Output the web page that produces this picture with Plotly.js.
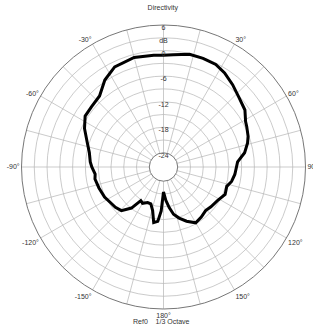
<!DOCTYPE html>
<html><head><meta charset="utf-8">
<script src="https://cdn.plot.ly/plotly-3.0.1.min.js"></script>
<style>html,body{margin:0;padding:0;background:#fff}#c{width:313px;height:334px}</style>
</head><body><div id="c"></div>
<script>
const angles = [-180,-177,-174,-170,-166,-161,-156,-150,-146,-142,-136,-130,-125,-117,-108,-100,-96,-90,-86,-79,-72,-64,-57,-50,-42,-34,-26,-15,-5,0,5,13,20,27,33,40,47,55,61,64,70,74,80,86,96,102,107,114,122,130,136,143,150,157,163,168,172,176,180];
const levels = [-21.5,-17,-14.5,-14.1,-16.8,-18.2,-18.2,-17.5,-17.8,-15.1,-13.1,-12.6,-12.4,-11.8,-11.4,-11.0,-11.2,-10.5,-10.1,-9.6,-8.5,-6.7,-5.4,-5.3,-4.9,-2.7,-1.2,-0.7,-1.0,-1.1,-0.9,-0.2,-0.2,-0.3,-1.0,-2.1,-3.2,-4.0,-5.3,-5.6,-6.2,-6.8,-8.0,-9.9,-10.5,-11.0,-11.8,-11.5,-12.4,-12.8,-13.1,-12.6,-12.2,-13.5,-14.8,-16.0,-17.7,-19.5,-21.5];
const radialTicks = [6,0,-6,-12,-18,-24];
const radialGrid = [-21,-18,-15,-12,-9,-6,-3,0,3,6];
const angleGrid = [0,15,30,45,60,75,90,105,120,135,150,165,180,195,210,225,240,255,270,285,300,315,330,345];
const angleLabels = {0:'',30:'30°',60:'60°',90:'90°',120:'120°',150:'150°',180:'180°',210:'-150°',240:'-120°',270:'-90°',300:'-60°',330:'-30°'};

const traces = [
  {type:'scatterpolar', r:levels, theta:angles, mode:'lines', line:{color:'#000',width:3}, hoverinfo:'skip', showlegend:false},
  {type:'scatterpolar', r:radialTicks, theta:radialTicks.map(()=>0), mode:'text', text:radialTicks.map(String),
   textposition:'bottom center', textfont:{size:7,color:'#333',family:'Liberation Sans, Arial'}, hoverinfo:'skip', showlegend:false},
  {type:'scatterpolar', r:[3], theta:[0], mode:'text', text:['dB'], textposition:'bottom center',
   textfont:{size:7,color:'#333',family:'Liberation Sans, Arial'}, hoverinfo:'skip', showlegend:false}
];

const layout = {
  width:313, height:334, margin:{l:0,r:0,t:0,b:0}, paper_bgcolor:'#fff', showlegend:false,
  title:{text:'Directivity', font:{size:7,color:'#333',family:'Liberation Sans, Arial'}, x:0.52, xanchor:'center', y:0.978, yanchor:'middle'},
  polar:{
    domain:{x:[21.5/313,305.5/313], y:[1-309/334, 1-25/334]},
    bgcolor:'#fff', hole:0.1,
    radialaxis:{range:[-24,6], tickmode:'array', tickvals:radialGrid, showticklabels:false, ticks:'', angle:90,
      showline:false, gridcolor:'#b4b4b4', gridwidth:0.7},
    angularaxis:{rotation:90, direction:'clockwise', tickmode:'array', tickvals:angleGrid,
      ticktext:angleGrid.map(a=>angleLabels[a]||''), ticks:'', gridcolor:'#b4b4b4', gridwidth:0.7,
      linecolor:'#777', linewidth:1, tickfont:{size:7,color:'#333',family:'Liberation Sans, Arial'}}
  },
  annotations:[{text:'Ref0    1/3 Octave', x:0.515, y:1-327/334, xref:'paper', yref:'paper', showarrow:false,
    font:{size:7,color:'#333',family:'Liberation Sans, Arial'}}]
};
Plotly.newPlot('c', traces, layout, {staticPlot:true, displayModeBar:false});
</script></body></html>
